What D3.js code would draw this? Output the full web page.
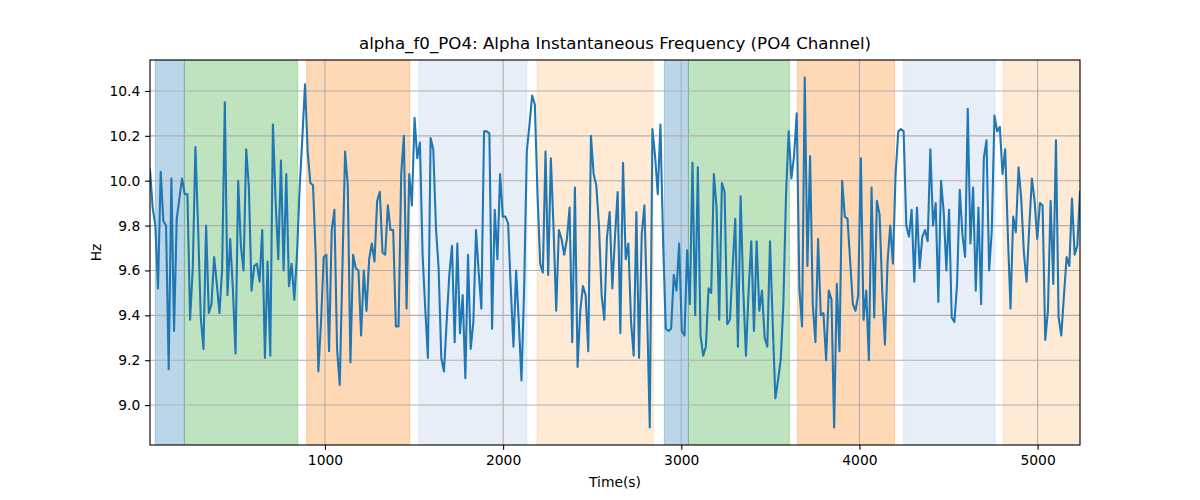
<!DOCTYPE html>
<html>
<head>
<meta charset="utf-8">
<script src="https://cdn.jsdelivr.net/npm/d3@7"></script>
<style>
  html, body { margin: 0; padding: 0; background: #fff; }
  text { font-family: "DejaVu Sans", sans-serif; }
</style>
</head>
<body>
<script>
// ---- data ----
const times = [
  18,33,48,63,78,93,108,123,138,153,
  168,183,198,213,228,243,258,273,288,303,
  318,333,348,363,378,393,408,423,438,453,
  468,483,498,513,528,543,558,573,588,603,
  618,633,648,663,678,693,708,723,738,753,
  768,783,798,813,828,843,858,873,888,903,
  918,933,948,963,978,993,1008,1023,1038,1053,
  1068,1083,1098,1113,1128,1143,1158,1173,1188,1203,
  1218,1233,1248,1263,1278,1293,1308,1323,1338,1353,
  1368,1383,1398,1413,1428,1443,1458,1473,1488,1503,
  1518,1533,1548,1563,1578,1593,1608,1623,1638,1653,
  1668,1683,1698,1713,1728,1743,1758,1773,1788,1803,
  1818,1833,1848,1863,1878,1893,1908,1923,1938,1953,
  1968,1983,1998,2013,2028,2043,2058,2073,2088,2103,
  2118,2133,2148,2163,2178,2193,2208,2223,2238,2253,
  2268,2283,2298,2313,2328,2343,2358,2373,2388,2403,
  2418,2433,2448,2463,2478,2493,2508,2523,2538,2553,
  2568,2583,2598,2613,2628,2643,2658,2673,2688,2703,
  2718,2733,2748,2763,2778,2793,2808,2823,2838,2853,
  2868,2883,2898,2913,2928,2943,2958,2973,2988,3003,
  3018,3033,3048,3063,3078,3093,3108,3123,3138,3153,
  3168,3183,3198,3213,3228,3243,3258,3273,3288,3303,
  3318,3333,3348,3363,3378,3393,3408,3423,3438,3453,
  3468,3483,3498,3513,3528,3543,3558,3573,3588,3603,
  3618,3633,3648,3663,3678,3693,3708,3723,3738,3753,
  3768,3783,3798,3813,3828,3843,3858,3873,3888,3903,
  3918,3933,3948,3963,3978,3993,4008,4023,4038,4053,
  4068,4083,4098,4113,4128,4143,4158,4173,4188,4203,
  4218,4233,4248,4263,4278,4293,4308,4323,4338,4353,
  4368,4383,4398,4413,4428,4443,4458,4473,4488,4503,
  4518,4533,4548,4563,4578,4593,4608,4623,4638,4653,
  4668,4683,4698,4713,4728,4743,4758,4773,4788,4803,
  4818,4833,4848,4863,4878,4893,4908,4923,4938,4953,
  4968,4983,4998,5013,5028,5043,5058,5073,5088,5103,
  5118,5133,5148,5163,5178,5193,5208,5223,5238
];
const freqHz = [
  10.05,9.88,9.80,9.52,10.04,9.82,9.80,9.16,10.01,9.33,
  9.83,9.92,10.01,9.94,9.94,9.38,9.61,10.15,9.79,9.39,
  9.25,9.80,9.41,9.45,9.66,9.54,9.41,9.61,10.35,9.49,
  9.74,9.52,9.23,10.00,9.71,9.60,10.14,9.97,9.51,9.62,
  9.63,9.55,9.78,9.21,9.64,9.22,10.25,9.91,9.65,10.09,
  9.60,10.03,9.53,9.63,9.47,9.67,9.97,10.19,10.43,10.13,
  9.99,9.98,9.67,9.15,9.37,9.66,9.67,9.24,9.78,9.87,
  9.25,9.09,9.61,10.13,9.98,9.19,9.67,9.61,9.60,9.31,
  9.60,9.42,9.65,9.72,9.64,9.91,9.95,9.68,9.67,9.89,
  9.78,9.78,9.35,9.35,10.03,10.20,9.43,10.03,9.89,10.28,
  10.10,10.17,9.67,9.43,9.21,10.19,10.14,9.79,9.61,9.21,
  9.15,9.37,9.58,9.71,9.28,9.72,9.32,9.49,9.12,9.67,
  9.25,9.37,9.78,9.59,9.43,10.22,10.22,10.21,9.34,9.87,
  9.65,10.03,9.84,9.84,9.81,9.52,9.26,9.60,9.37,9.11,
  9.52,10.13,10.25,10.38,10.34,9.94,9.63,9.59,10.13,9.58,
  10.10,9.79,9.42,9.78,9.74,9.67,9.74,9.88,9.28,9.97,
  9.17,9.42,9.53,9.49,9.24,10.20,10.03,9.98,9.80,9.49,
  9.38,9.75,9.86,9.52,9.75,9.95,9.32,10.08,9.65,9.72,
  9.37,9.22,9.86,9.21,9.76,9.89,9.43,8.90,10.23,10.11,
  9.94,10.25,9.73,9.34,9.33,9.34,9.58,9.51,9.72,9.33,
  9.31,9.69,9.45,10.08,9.40,10.06,9.31,9.22,9.26,9.52,
  9.50,10.03,9.88,9.38,9.99,9.95,9.36,9.38,9.61,9.83,
  9.26,9.93,9.51,9.22,9.51,9.73,9.33,9.73,9.42,9.51,
  9.30,9.26,9.73,9.37,9.03,9.11,9.20,9.45,9.94,10.22,
  10.01,10.11,10.30,9.52,9.35,10.46,9.62,10.11,9.45,9.28,
  9.74,9.40,9.41,9.20,9.51,9.47,8.90,9.54,9.24,10.00,
  9.84,9.83,9.64,9.45,9.42,9.49,10.10,9.38,9.51,9.20,
  9.97,9.39,9.91,9.85,9.51,9.27,9.64,9.80,9.63,10.03,
  10.22,10.23,10.22,9.80,9.75,9.87,9.55,9.88,9.61,9.75,
  9.78,9.73,10.14,9.80,9.90,9.46,10.00,9.86,9.60,9.87,
  9.39,9.37,9.54,9.96,9.76,9.66,10.32,9.72,9.97,9.51,
  9.88,9.45,10.10,10.18,9.60,9.78,10.29,10.22,10.24,10.03,
  10.14,9.76,9.43,9.84,9.77,10.06,9.92,9.68,9.55,9.79,
  10.01,9.91,9.74,9.90,9.89,9.29,9.42,9.91,9.54,10.18,
  9.39,9.31,9.49,9.66,9.62,9.92,9.67,9.71,9.95
];
const bandStart = [48, 211, 897, 1527, 2190, 2905, 3040, 3653, 4248, 4806];
const bandEnd   = [211, 847, 1476, 2134, 2843, 3040, 3607, 4197, 4761, 5300];
const bandColor = ["#1f77b4", "#2ca02c", "#ff7f0e", "#aec7e8", "#ffbb78",
                   "#1f77b4", "#2ca02c", "#ff7f0e", "#aec7e8", "#ffbb78"];
const xTicks = [1000, 2000, 3000, 4000, 5000];
const yTicks = [9.0, 9.2, 9.4, 9.6, 9.8, 10.0, 10.2, 10.4];
const titleText = "alpha_f0_PO4: Alpha Instantaneous Frequency (PO4 Channel)";
const xLabel = "Time(s)";
const yLabel = "Hz";

// ---- layout ----
const W = 1200, H = 500;
const L = 150, R = 1080, T = 60, B = 445;
const PT = 100 / 72; // px per pt

const svg = d3.select("body").append("svg")
  .attr("width", W).attr("height", H);

const x = d3.scaleLinear()
  .domain([times[0], times[times.length - 1]])
  .range([L, R]);
const yMin = d3.min(freqHz), yMax = d3.max(freqHz);
const pad = (yMax - yMin) * 0.05;
const y = d3.scaleLinear()
  .domain([yMin - pad, yMax + pad])
  .range([B, T]);

svg.append("defs").append("clipPath").attr("id", "plotclip")
  .append("rect").attr("x", L).attr("y", T).attr("width", R - L).attr("height", B - T);

const plot = svg.append("g").attr("clip-path", "url(#plotclip)");

// bands
plot.selectAll("rect.band")
  .data(bandStart.map((s, i) => ({ s, e: bandEnd[i], c: bandColor[i] })))
  .join("rect")
  .attr("class", "band")
  .attr("x", d => x(d.s))
  .attr("y", T)
  .attr("width", d => x(d.e) - x(d.s))
  .attr("height", B - T)
  .attr("fill", d => d.c)
  .attr("fill-opacity", 0.3)
  .attr("stroke", d => d.c)
  .attr("stroke-opacity", 0.3)
  .attr("stroke-width", 1);

// grid
plot.selectAll("line.gx").data(xTicks).join("line")
  .attr("x1", d => x(d)).attr("x2", d => x(d))
  .attr("y1", T).attr("y2", B)
  .attr("stroke", "#b0b0b0").attr("stroke-width", 0.8 * PT);
plot.selectAll("line.gy").data(yTicks).join("line")
  .attr("x1", L).attr("x2", R)
  .attr("y1", d => y(d)).attr("y2", d => y(d))
  .attr("stroke", "#b0b0b0").attr("stroke-width", 0.8 * PT);

// line
const line = d3.line()
  .x((d, i) => x(times[i]))
  .y(d => y(d));
plot.append("path")
  .datum(freqHz)
  .attr("d", line)
  .attr("fill", "none")
  .attr("stroke", "#1f77b4")
  .attr("stroke-width", 1.5 * PT)
  .attr("stroke-linejoin", "round")
  .attr("stroke-linecap", "square");

// axes
const tickLen = 3.5 * PT, tickPad = 3.5 * PT;
const fontPx = 10 * PT;

const xAxis = svg.append("g").attr("transform", `translate(0,${B})`)
  .call(d3.axisBottom(x).tickValues(xTicks).tickSize(tickLen).tickPadding(tickPad)
    .tickFormat(d3.format("d")));
const yAxis = svg.append("g").attr("transform", `translate(${L},0)`)
  .call(d3.axisLeft(y).tickValues(yTicks).tickSize(tickLen).tickPadding(tickPad)
    .tickFormat(d3.format(".1f")));
[xAxis, yAxis].forEach(g => {
  g.select(".domain").remove();
  g.selectAll(".tick line").attr("stroke", "#000").attr("stroke-width", 0.8 * PT);
  g.selectAll(".tick text").attr("fill", "#000")
    .style("font-family", "'DejaVu Sans', sans-serif")
    .style("font-size", fontPx + "px");
});

// spines
svg.append("rect")
  .attr("x", L).attr("y", T).attr("width", R - L).attr("height", B - T)
  .attr("fill", "none").attr("stroke", "#000").attr("stroke-width", 0.8 * PT);

// title and labels
svg.append("text")
  .attr("x", (L + R) / 2).attr("y", T - 6 * PT - 3)
  .attr("text-anchor", "middle")
  .style("font-size", (12 * PT) + "px")
  .text(titleText);
svg.append("text")
  .attr("x", (L + R) / 2).attr("y", 487)
  .attr("text-anchor", "middle")
  .style("font-size", fontPx + "px")
  .text(xLabel);
svg.append("text")
  .attr("transform", `translate(101,${(T + B) / 2}) rotate(-90)`)
  .attr("text-anchor", "middle")
  .style("font-size", fontPx + "px")
  .text(yLabel);
</script>
</body>
</html>
